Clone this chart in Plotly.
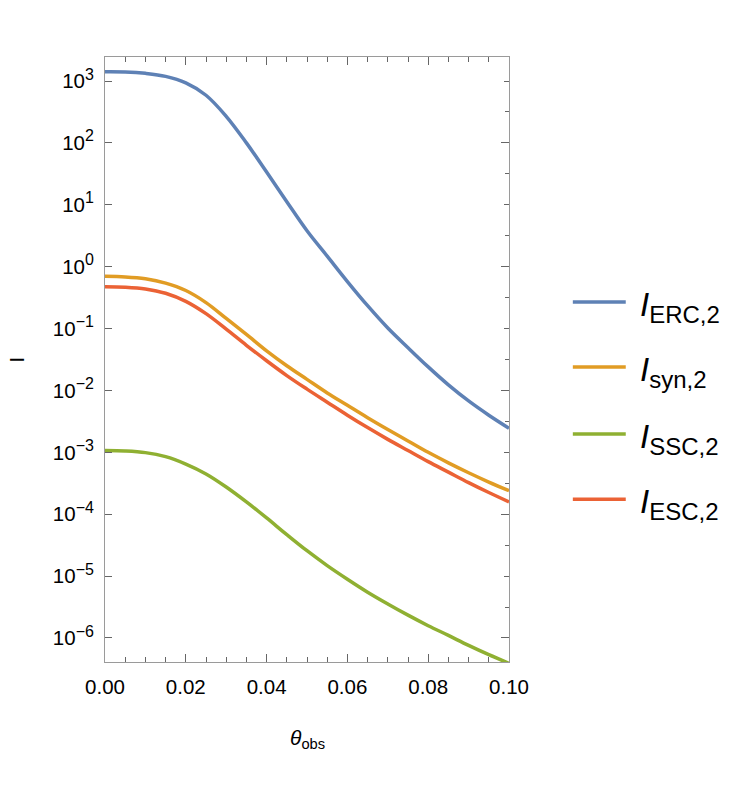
import plotly.graph_objects as go

theta = [0.0, 0.005, 0.01, 0.015, 0.02, 0.025, 0.03, 0.035, 0.04, 0.045, 0.05,
         0.055, 0.06, 0.065, 0.07, 0.075, 0.08, 0.085, 0.09, 0.095, 0.1]

I_ERC = [1410, 1400, 1330, 1190, 933, 589, 269, 100, 33.9, 11.2, 3.80,
         1.48, 0.575, 0.234, 0.102, 0.0490, 0.0240, 0.0123, 0.00676, 0.00398, 0.00245]
I_syn = [0.700, 0.684, 0.638, 0.543, 0.412, 0.263, 0.146, 0.0804, 0.0437, 0.0251, 0.0151,
         0.00912, 0.00575, 0.00363, 0.00234, 0.00153, 0.00100, 0.000676, 0.000468, 0.000331, 0.000240]
I_SSC = [1.07e-3, 1.05e-3, 9.89e-4, 8.51e-4, 6.46e-4, 4.47e-4, 2.75e-4, 1.58e-4, 8.71e-5, 4.68e-5, 2.57e-5,
         1.48e-5, 8.91e-6, 5.50e-6, 3.55e-6, 2.34e-6, 1.58e-6, 1.10e-6, 7.59e-7, 5.37e-7, 3.89e-7]
I_ESC = [0.475, 0.466, 0.437, 0.372, 0.275, 0.174, 0.0977, 0.0537, 0.0302, 0.0174, 0.0105,
         0.00646, 0.00398, 0.00251, 0.00162, 0.00107, 0.000708, 0.000479, 0.000324, 0.000224, 0.000158]

series_subs = ["ERC,2", "syn,2", "SSC,2", "ESC,2"]
series_values = [I_ERC, I_syn, I_SSC, I_ESC]
colors = ["#5E81B5", "#E19C24", "#8FB032", "#EB6235"]

x_tickvals = [0.0, 0.02, 0.04, 0.06, 0.08, 0.1]
x_ticktext = ["0.00", "0.02", "0.04", "0.06", "0.08", "0.10"]
y_exponents = [-6, -5, -4, -3, -2, -1, 0, 1, 2, 3]
y_tickvals = [10.0 ** e for e in y_exponents]
y_ticktext = ["10<sup><span style='font-size:16px'>%s</span></sup>" % (str(e).replace("-", "\u2212"))
              for e in y_exponents]

FONT = "Liberation Sans, Arial, sans-serif"
LINE_C = "#9a9a9a"
TICK_C = "#666666"

fig = go.Figure()
for sub, vals, col in zip(series_subs, series_values, colors):
    fig.add_trace(go.Scatter(x=theta, y=vals, mode="lines", name="I_" + sub,
                             line=dict(color=col, width=3.5, shape="spline", smoothing=1.0),
                             showlegend=False, cliponaxis=True))

yr = [-6.388, 3.388]
# the page body adds an 8px offset, so margins are reduced by 8px on left/top
fig.update_layout(
    width=739, height=799, autosize=False,
    margin=dict(l=96.5, r=238, t=49, b=145),
    paper_bgcolor="white", plot_bgcolor="white",
    font=dict(family=FONT, size=20, color="black"),
    xaxis=dict(range=[0, 0.1], tickmode="array", tickvals=x_tickvals, ticktext=x_ticktext,
               ticks="inside", ticklen=8, tickcolor=TICK_C, tickwidth=1,
               showline=True, linecolor=LINE_C, linewidth=1, mirror="ticks",
               showgrid=False, zeroline=False, ticklabelstandoff=6,
               tickfont=dict(size=20.5, family=FONT),
               minor=dict(tick0=0, dtick=0.005, ticks="inside", ticklen=5,
                          tickcolor=TICK_C, showgrid=False)),
    yaxis=dict(type="log", range=yr, tickmode="array", tickvals=y_tickvals, ticktext=y_ticktext,
               ticks="inside", ticklen=7, tickcolor=TICK_C, tickwidth=1,
               showline=True, linecolor=LINE_C, linewidth=1,
               showgrid=False, zeroline=False, ticklabelstandoff=6,
               tickfont=dict(size=20.5, family=FONT)),
    yaxis2=dict(type="log", range=yr, overlaying="y", side="right", anchor="x",
                tickmode="array", tickvals=[1e-6, 1e-4, 1e-2, 1, 1e2],
                ticks="inside", ticklen=8, tickcolor=TICK_C, showticklabels=False,
                showline=True, linecolor=LINE_C, showgrid=False, zeroline=False,
                minor=dict(tickmode="array", tickvals=[1e-5, 1e-3, 1e-1, 10, 1e3],
                           ticks="inside", ticklen=5, tickcolor=TICK_C, showgrid=False)),
    yaxis3=dict(type="log", range=yr, overlaying="y", side="right", anchor="x",
                tickmode="array",
                tickvals=[10 ** (e + 0.5) for e in range(-7, 3)],
                ticks="inside", ticklen=4, tickcolor=TICK_C, showticklabels=False,
                showline=False, showgrid=False, zeroline=False),
)

# invisible traces to bind the right-side tick axes
fig.add_trace(go.Scatter(x=[theta[0]], y=[I_ERC[0]], yaxis="y2", mode="lines",
                         showlegend=False, hoverinfo="skip", line=dict(width=0)))
fig.add_trace(go.Scatter(x=[theta[0]], y=[I_ERC[0]], yaxis="y3", mode="lines",
                         showlegend=False, hoverinfo="skip", line=dict(width=0)))

# axis titles
fig.add_annotation(text="<i>θ</i><sub>obs</sub>", xref="paper", yref="paper",
                   x=0.5, y=-0.128, xanchor="center", yanchor="middle",
                   showarrow=False, font=dict(size=21, family=FONT))
fig.add_annotation(text="I", xref="paper", yref="paper",
                   x=-0.218, y=0.5, xanchor="center", yanchor="middle", textangle=-90,
                   showarrow=False, font=dict(size=20, family=FONT))

# legend (drawn manually to match the reference layout)
leg_y = [0.595, 0.4876, 0.377, 0.269]
for sub, col, ly in zip(series_subs, colors, leg_y):
    fig.add_shape(type="line", xref="paper", yref="paper", x0=1.158, x1=1.289, y0=ly, y1=ly,
                  line=dict(color=col, width=3.5))
    fig.add_annotation(text="<i>I</i><sub><span style='font-size:24px'>%s</span></sub>" % sub,
                       xref="paper", yref="paper", x=1.32, y=ly,
                       xanchor="left", yanchor="middle", yshift=-5, showarrow=False,
                       font=dict(size=33, family=FONT))

fig.write_html("out.html")
